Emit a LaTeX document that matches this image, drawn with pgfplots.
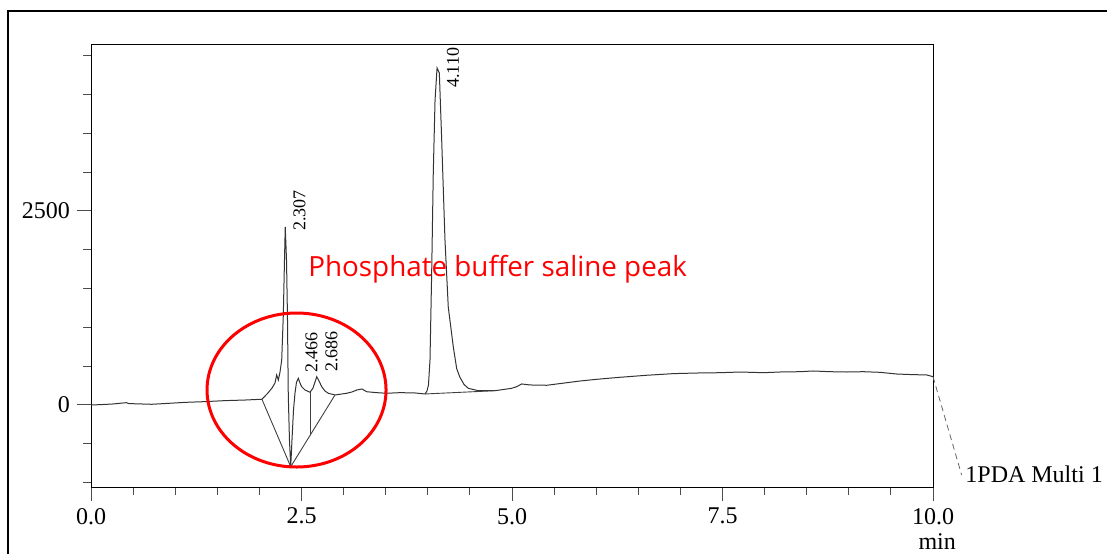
\documentclass[border=0pt]{standalone}
\usepackage{fontspec}
\setmainfont{Liberation Serif}
\newfontfamily\redfont{Open Sans}
\usepackage{pgfplots}
\pgfplotsset{compat=1.18}
\begin{document}
\begin{tikzpicture}
\path[use as bounding box] (0,0) rectangle (553.5pt,277pt);
\draw[line width=1.2pt] (4pt,0pt) -- (4pt,271.5pt) -- (553.5pt,271.5pt);
\begin{axis}[
  at={(45.5pt,33.5pt)}, anchor=south west,
  scale only axis, width=421pt, height=221pt,
  xmin=0, xmax=10, ymin=-1057, ymax=4639,
  clip=false,
  axis line style={black, line width=0.5pt},
  tick align=outside, tick pos=left,
  xtick={0,2.5,5,7.5,10}, xticklabels={0.0,2.5,5.0,7.5,10.0},
  minor xtick={0.5,1,1.5,2,3,3.5,4,4.5,5.5,6,6.5,7,8,8.5,9,9.5},
  ytick={0,2500}, yticklabels={0,2500},
  minor ytick={-1000,-500,500,1000,1500,2000,3000,3500,4000,4500},
  major tick length=7pt, minor tick length=4pt,
  every tick/.style={black!70, line width=0.5pt},
  ticklabel style={font=\fontsize{12}{14}\selectfont},
  /pgf/number format/assume math mode=true,
]
\addplot[black!80, line width=0.5pt] coordinates {
(0,0) (0.12,5) (0.25,12) (0.42,30) (0.45,18) (0.72,9) (0.9,20) (1.12,34) (1.35,43) (1.59,56) (1.83,64) (2.03,74)
(2.102,155) (2.150,219) (2.185,283) (2.205,387) (2.225,322) (2.245,425) (2.265,580) (2.284,1160) (2.298,1869)
(2.307,2294) (2.322,1869) (2.333,1160) (2.343,129) (2.357,-451) (2.372,-795) (2.387,-451) (2.405,-64) (2.423,155)
(2.440,290) (2.462,344) (2.482,283) (2.502,236) (2.542,193) (2.601,164) (2.637,219) (2.681,365) (2.708,309)
(2.740,236) (2.779,180) (2.818,151) (2.898,129) (3.037,151) (3.100,168) (3.156,193) (3.218,206) (3.274,171)
(3.393,159) (3.512,151) (3.670,159) (3.848,155) (3.967,142) (3.990,180) (4.008,258) (4.026,580) (4.046,1701)
(4.065,2990) (4.086,3930) (4.110,4343) (4.137,4278) (4.165,3415) (4.204,2126) (4.243,1263) (4.303,747)
(4.343,470) (4.380,360) (4.430,265) (4.481,215) (4.600,184) (4.798,184) (4.996,215) (5.056,236) (5.115,271) (5.214,258)
(5.412,254) (5.650,287) (5.808,309) (6.006,331) (6.283,357) (6.600,383) (6.916,404) (7.193,412) (7.470,416)
(7.708,425) (7.985,416) (8.183,425) (8.420,429) (8.578,438) (8.777,429) (8.975,425) (9.172,429) (9.370,421)
(9.569,399) (9.766,391) (9.925,387) (10.0,365)
};
\addplot[black!75, line width=0.45pt] coordinates {(2.03,74) (2.372,-795) (2.898,129)};
\addplot[black!75, line width=0.45pt] coordinates {(2.601,164) (2.601,-393)};
\addplot[black!75, line width=0.45pt] coordinates {(3.967,142) (4.80,184)};
\draw[densely dashed, black!60, line width=0.4pt] (axis cs:10,365) -- (axis cs:10.34,-902);
\node[rotate=90, anchor=north west, inner sep=0pt, font=\fontsize{9}{10}\selectfont] at (axis cs:2.399,2242) {2.307};
\node[rotate=90, anchor=north west, inner sep=0pt, font=\fontsize{9}{10}\selectfont] at (axis cs:2.542,412) {2.466};
\node[rotate=90, anchor=north west, inner sep=0pt, font=\fontsize{9}{10}\selectfont] at (axis cs:2.779,425) {2.686};
\node[rotate=90, anchor=north west, inner sep=0pt, font=\fontsize{9}{10}\selectfont] at (axis cs:4.222,4085) {4.110};
\node[anchor=base west, inner sep=0pt, text=red, font=\redfont\fontsize{13.9}{16}\selectfont] at (axis cs:2.577,1650) {Phosphate buffer saline peak};
\draw[red, line width=1.5pt] (axis cs:2.441,193) ellipse [x radius=44.75pt, y radius=38.5pt];
\node[anchor=base west, inner sep=0pt, font=\fontsize{12}{14}\selectfont] at (axis cs:10.38,-1005) {1PDA Multi 1};
\node[anchor=base, inner sep=0pt, font=\fontsize{12}{14}\selectfont] at (axis cs:10.05,-1860) {min};
\end{axis}
\end{tikzpicture}
\end{document}
